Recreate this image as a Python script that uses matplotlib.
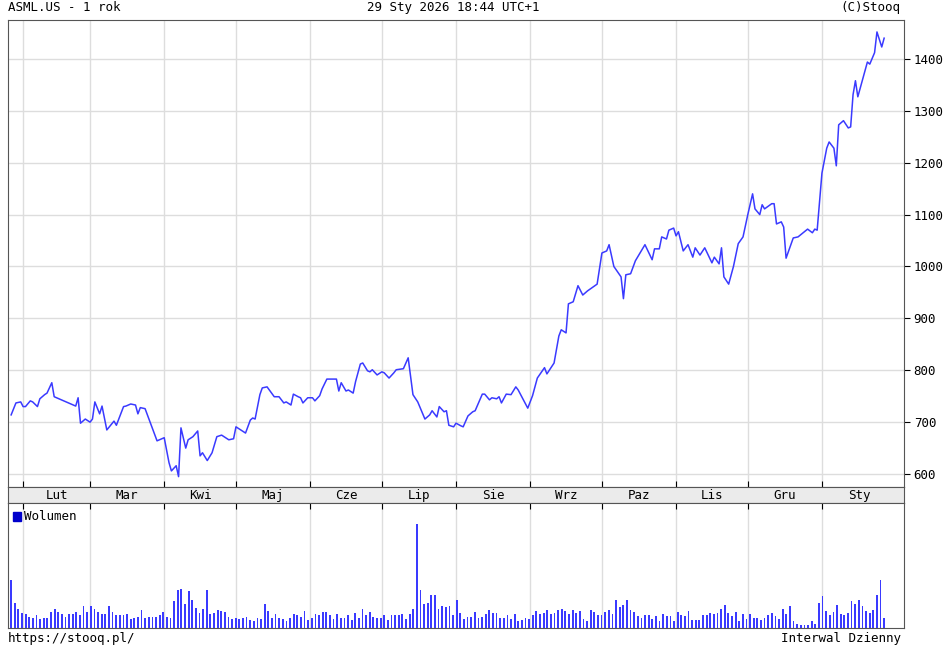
#importing modules
import numpy as np
from matplotlib import pyplot as plt
from matplotlib.patches import Rectangle

#price data: days since 1 Feb 2025, close price
days = [-5,-3,-1,0,1,3,4,6,7,9,10,12,13,15,16,22,23,24,26,28,29,30,32,33,35,38,39,42,43,45,47,48,49,51,
        56,59,61,62,64,65,66,68,69,71,73,74,75,77,79,81,83,84,86,88,89,93,95,96,97,99,100,102,105,107,
        109,110,112,113,115,116,117,119,121,122,124,125,127,130,131,132,133,135,136,138,139,141,142,144,
        145,146,148,150,151,153,155,156,159,161,163,165,168,170,171,173,174,176,177,178,180,181,183,184,
        186,188,189,192,193,195,196,198,199,200,202,204,206,207,211,213,215,218,219,222,224,225,227,228,
        230,232,234,236,240,242,244,245,247,250,251,252,254,256,260,263,264,266,267,269,270,272,273,274,
        276,278,280,281,283,285,288,289,291,292,293,295,297,299,301,303,305,306,308,309,310,313,314,315,
        317,318,319,322,324,328,330,331,332,334,336,337,339,340,341,343,345,346,347,348,349,353,354,356,
        357,359,360]
price = [714,737,739,730,730,741,739,730,745,753,756,776,749,745,743,731,747,698,706,700,706,739,716,731,685,702,694,730,731,735,733,716,728,726,
         664,670,622,606,616,595,689,650,666,672,683,635,641,626,641,672,675,672,666,668,691,679,704,708,706,753,766,768,749,749,
         737,739,733,754,749,747,737,747,747,741,751,764,783,783,783,760,776,760,762,756,778,812,814,799,
         797,801,791,797,795,785,795,801,803,824,753,739,706,714,722,710,730,720,722,694,691,698,693,691,
         712,720,722,754,754,743,747,745,749,737,754,753,768,762,727,751,785,805,793,814,866,878,872,928,
         932,963,945,953,966,1026,1030,1042,1000,980,938,984,986,1011,1042,1013,1034,1034,1057,1053,1070,1074,1059,1067,
         1030,1042,1018,1036,1022,1036,1007,1018,1005,1036,980,966,1000,1044,1057,1100,1140,1111,1100,1119,1111,1121,1121,1082,
         1086,1076,1016,1055,1057,1072,1065,1072,1070,1180,1228,1240,1228,1194,1273,1281,1267,1269,1331,1358,1327,1394,1390,1412,
         1452,1423,1440]

#volume (relative units), one bar per session
volume = [143,76,58,45,41,33,30,38,27,30,30,48,58,48,41,33,41,41,48,38,66,48,66,58,48,41,41,66,48,38,38,38,41,27,30,33,55,30,33,33,33,38,48,33,30,
          80,115,118,73,111,83,61,45,58,115,41,45,55,51,48,33,27,30,27,30,33,23,20,30,27,
          73,51,30,41,30,27,20,30,41,38,33,51,25,
          31,41,38,48,48,38,27,41,30,30,38,25,45,30,58,38,48,33,31,31,38,25,38,38,38,41,27,41,58,312,115,73,76,98,98,58,66,63,66,38,83,45,27,33,
          33,48,31,33,41,55,45,45,31,31,38,27,41,21,23,31,27,38,51,41,45,55,41,45,55,58,50,41,55,45,51,27,21,
          55,48,38,38,48,55,41,83,63,70,83,55,48,35,31,38,38,27,35,21,41,35,35,21,48,38,35,51,25,25,25,38,38,45,41,45,58,70,
          45,35,48,21,41,27,41,31,31,23,31,38,45,35,27,58,41,66,21,13,8,10,10,21,13,76,95,51,38,48,70,41,38,45,80,
          73,83,66,50,45,55,98,143,31]

months = ['Lut','Mar','Kwi','Maj','Cze','Lip','Sie','Wrz','Paz','Lis','Gru','Sty']
month_starts = [0,28,59,89,120,150,181,212,242,273,303,334,365]
yticks = [600,700,800,900,1000,1100,1200,1300,1400]

plt.rcParams['font.family'] = ['DejaVu Sans Mono']
blue = '#3a3aff'
grid = '#dddddd'
xlim = (-6.3, 368.3)

fig = plt.figure(figsize=(9.45,6.56), dpi=100)

#price panel
ax = fig.add_axes([0.0085,0.2576,0.9481,0.7119])
ax.plot(days, price, color=blue, lw=1.1)
ax.set_xlim(xlim)
ax.set_ylim(575,1475)
ax.set_yticks(yticks)
ax.yaxis.tick_right()
ax.tick_params(axis='y', labelsize=9, length=4, pad=3)
ax.set_xticks(month_starts[:-1])
ax.tick_params(axis='x', labelbottom=False, length=4, direction='in')
ax.grid(color=grid, lw=1)
ax.set_axisbelow(True)

#month band
band = fig.add_axes([0.0085,0.2332,0.9481,0.0244])
band.set_facecolor('#ebebeb')
band.set_xlim(xlim)
band.set_ylim(0,1)
band.set_xticks([])
band.set_yticks([])
for i, m in enumerate(months):
    band.text((month_starts[i]+month_starts[i+1])/2, 0.45, m, ha='center', va='center', fontsize=9)

#volume panel
vax = fig.add_axes([0.0085,0.0427,0.9481,0.1905])
vx = np.linspace(-5, 360, len(volume))
vax.bar(vx, volume, width=0.75, color=blue)
vax.set_xlim(xlim)
vax.set_ylim(0,375)
vax.set_yticks([])
vax.set_xticks(month_starts[:-1])
vax.tick_params(axis='x', labelbottom=False, length=4, direction='in', top=True, bottom=False)
vax.grid(axis='x', color=grid, lw=1)
vax.set_axisbelow(True)
vax.add_patch(Rectangle((0.006,0.86),0.008,0.07, transform=vax.transAxes, color='#0000cc'))
vax.text(0.018,0.895,'Wolumen', transform=vax.transAxes, va='center', fontsize=9)

for a in (ax, band, vax):
    for s in a.spines.values():
        s.set_color('#555555')

#header and footer
fig.text(0.0085,0.988,'ASML.US - 1 rok', va='center', fontsize=9)
fig.text(0.48,0.988,'29 Sty 2026 18:44 UTC+1', ha='center', va='center', fontsize=9)
fig.text(0.953,0.988,'(C)Stooq', ha='right', va='center', fontsize=9)
fig.text(0.0085,0.027,'https://stooq.pl/', va='center', fontsize=9)
fig.text(0.953,0.027,'Interwal Dzienny', ha='right', va='center', fontsize=9)

plt.savefig('out.png', dpi=100)
